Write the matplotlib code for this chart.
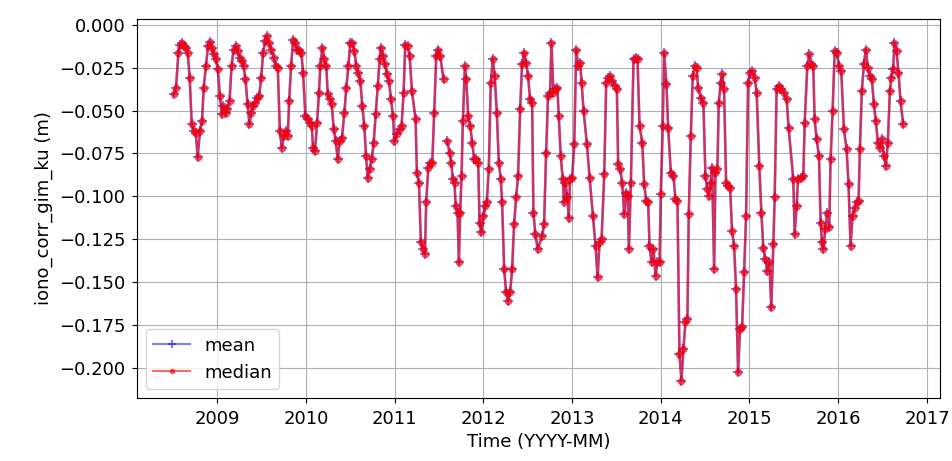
import matplotlib
matplotlib.use("Agg")
import matplotlib.pyplot as plt
import numpy as np
import pandas as pd

# decimal year of each cycle
years = [
    2008.512, 2008.538, 2008.565, 2008.587, 2008.606, 2008.625, 2008.647, 2008.670, 2008.692, 2008.715,
    2008.737, 2008.760, 2008.782, 2008.809, 2008.831, 2008.850, 2008.876, 2008.899, 2008.921, 2008.940,
    2008.963, 2008.985, 2009.008, 2009.030, 2009.053, 2009.071, 2009.094, 2009.116, 2009.139, 2009.162,
    2009.184, 2009.207, 2009.229, 2009.252, 2009.274, 2009.297, 2009.319, 2009.342, 2009.364, 2009.383,
    2009.405, 2009.428, 2009.451, 2009.473, 2009.496, 2009.518, 2009.541, 2009.563, 2009.586, 2009.608,
    2009.638, 2009.661, 2009.683, 2009.706, 2009.728, 2009.751, 2009.773,
    2009.796, 2009.811, 2009.833, 2009.856, 2009.878, 2009.901, 2009.927, 2009.949, 2009.968, 2009.994,
    2010.021, 2010.043, 2010.066, 2010.081, 2010.103, 2010.126, 2010.148, 2010.163, 2010.186, 2010.208,
    2010.231, 2010.246, 2010.268, 2010.291, 2010.314, 2010.336, 2010.359, 2010.381, 2010.407, 2010.434,
    2010.456, 2010.479, 2010.501, 2010.524, 2010.546, 2010.569, 2010.591, 2010.614, 2010.636, 2010.659,
    2010.678, 2010.697, 2010.719, 2010.742, 2010.764, 2010.787, 2010.809, 2010.832, 2010.847, 2010.869,
    2010.892, 2010.914, 2010.937, 2010.959, 2010.982, 2010.997, 2011.027, 2011.057, 2011.079, 2011.102,
    2011.121, 2011.147, 2011.170, 2011.196,
    2011.237, 2011.252, 2011.275, 2011.297, 2011.320, 2011.342, 2011.357, 2011.380, 2011.402, 2011.425,
    2011.447, 2011.470, 2011.492, 2011.515, 2011.552, 2011.573,
    2011.594, 2011.620, 2011.639, 2011.657, 2011.676, 2011.688, 2011.710, 2011.725, 2011.740, 2011.755,
    2011.770, 2011.793, 2011.808, 2011.830, 2011.853, 2011.875, 2011.898, 2011.920, 2011.943, 2011.958,
    2011.980, 2012.003, 2012.025, 2012.040, 2012.063, 2012.085, 2012.108, 2012.130, 2012.153, 2012.176,
    2012.198, 2012.213, 2012.236, 2012.258, 2012.281, 2012.303, 2012.326, 2012.348, 2012.371, 2012.393,
    2012.416, 2012.438, 2012.461, 2012.483, 2012.506, 2012.528, 2012.551, 2012.566, 2012.588, 2012.615,
    2012.664, 2012.686, 2012.709, 2012.731, 2012.754, 2012.769, 2012.791, 2012.814, 2012.836, 2012.851,
    2012.874, 2012.896, 2012.911, 2012.926, 2012.949, 2012.964, 2012.979, 2013.001, 2013.024, 2013.046,
    2013.069, 2013.091, 2013.107, 2013.129, 2013.167, 2013.197, 2013.234, 2013.264, 2013.287, 2013.309,
    2013.332, 2013.362, 2013.384, 2013.407, 2013.429, 2013.452, 2013.482, 2013.504, 2013.519, 2013.542,
    2013.564, 2013.587, 2013.609, 2013.625, 2013.640, 2013.662, 2013.692, 2013.715, 2013.737, 2013.760,
    2013.790, 2013.812, 2013.835, 2013.857, 2013.872, 2013.895, 2013.917, 2013.940, 2013.962, 2013.985,
    2014.000, 2014.022, 2014.037,
    2014.064, 2014.083, 2014.113, 2014.143, 2014.165, 2014.188, 2014.210, 2014.233, 2014.255, 2014.278,
    2014.300, 2014.315, 2014.338, 2014.360, 2014.383, 2014.405, 2014.420, 2014.450, 2014.480, 2014.503,
    2014.525, 2014.540, 2014.563, 2014.578, 2014.601, 2014.616, 2014.638, 2014.653, 2014.676, 2014.691,
    2014.713, 2014.736, 2014.758, 2014.781, 2014.803, 2014.826, 2014.848, 2014.871, 2014.893, 2014.916,
    2014.939, 2014.961, 2014.984, 2015.006, 2015.029, 2015.059, 2015.081, 2015.111, 2015.134, 2015.156,
    2015.179, 2015.201, 2015.224, 2015.246, 2015.269, 2015.284, 2015.306, 2015.329, 2015.359, 2015.389,
    2015.419, 2015.441,
    2015.494, 2015.509, 2015.532, 2015.547, 2015.577, 2015.607, 2015.622, 2015.652, 2015.674, 2015.697,
    2015.719, 2015.734, 2015.757, 2015.783, 2015.802, 2015.817, 2015.832, 2015.854, 2015.877, 2015.899,
    2015.914, 2015.937, 2015.960, 2015.982, 2016.012, 2016.035, 2016.065, 2016.095, 2016.117, 2016.140,
    2016.162, 2016.185, 2016.207, 2016.230, 2016.245, 2016.267, 2016.290, 2016.312, 2016.335, 2016.357,
    2016.380, 2016.403, 2016.425, 2016.448, 2016.470, 2016.493, 2016.515, 2016.538, 2016.560, 2016.583,
    2016.598, 2016.620, 2016.635, 2016.658, 2016.680, 2016.703, 2016.733,
]

# iono correction in metres (nan = missing cycle)
iono_mean = [
    -0.0406, -0.0367, -0.0163, -0.0115, -0.0105, -0.0124, -0.0134, -0.0163, -0.0309, -0.0580,
    -0.0619, -0.0629, -0.0769, -0.0619, -0.0561, -0.0367, -0.0241, -0.0124, -0.0101, -0.0134,
    -0.0173, -0.0202, -0.0260, -0.0415, -0.0522, -0.0474, -0.0512, -0.0493, -0.0444, -0.0241,
    -0.0144, -0.0124, -0.0153, -0.0192, -0.0212, -0.0241, -0.0318, -0.0464, -0.0580, -0.0512,
    -0.0474, -0.0454, -0.0425, -0.0415, -0.0309, -0.0163, -0.0095, -0.0066, -0.0105, -0.0144,
    -0.0192, -0.0241, -0.0250, -0.0619, -0.0716, -0.0648, -0.0619,
    -0.0648, -0.0444, -0.0241, -0.0089, -0.0105, -0.0144, -0.0144, -0.0163, -0.0280, -0.0532,
    -0.0551, -0.0571, -0.0590, -0.0716, -0.0736, -0.0571, -0.0396, -0.0241, -0.0134, -0.0202,
    -0.0241, -0.0406, -0.0435, -0.0464, -0.0609, -0.0677, -0.0784, -0.0677, -0.0658, -0.0512,
    -0.0367, -0.0241, -0.0105, -0.0105, -0.0153, -0.0241, -0.0280, -0.0328, -0.0474, -0.0590,
    -0.0765, -0.0891, -0.0842, -0.0784, -0.0687, -0.0522, -0.0357, -0.0202, -0.0134, -0.0182,
    -0.0231, -0.0289, -0.0328, -0.0435, -0.0532, -0.0677, -0.0639, -0.0609, -0.0590, -0.0396,
    -0.0115, -0.0124, -0.0182, -0.0386,
    -0.0551, -0.0862, -0.0920, -0.1269, -0.1308, -0.1337, -0.1036, -0.0833, -0.0804, -0.0804,
    -0.0512, -0.0182, -0.0144, -0.0182, -0.0318, np.nan,
    -0.0677, -0.0745, -0.0804, -0.0901, -0.0920, -0.1056, -0.1095, -0.1386, -0.1095, -0.0881,
    -0.0561, -0.0241, -0.0318, -0.0532, -0.0590, -0.0687, -0.0784, -0.0784, -0.0804, -0.1153,
    -0.1211, -0.1114, -0.1056, -0.1036, -0.0842, -0.0338, -0.0202, -0.0299, -0.0512, -0.0804,
    -0.0901, -0.1036, -0.1425, -0.1561, -0.1609, -0.1561, -0.1425, -0.1163, -0.1007, -0.0881,
    -0.0493, -0.0231, -0.0163, -0.0221, -0.0299, -0.0435, -0.0454, -0.1095, -0.1221, -0.1308,
    -0.1231, -0.1163, -0.0745, -0.0415, -0.0396, -0.0105, -0.0396, -0.0377, -0.0367, -0.0532,
    -0.0765, -0.0901, -0.1036, -0.0920, -0.1007, -0.1124, -0.0901, -0.0891, -0.0697, -0.0144,
    -0.0241, -0.0221, -0.0338, -0.0503, -0.0697, -0.0891, -0.1114, -0.1289, -0.1473, -0.1269,
    -0.1250, -0.0872, -0.0338, -0.0309, -0.0299, -0.0328, -0.0357, -0.0377, -0.0813, -0.0842,
    -0.0920, -0.1104, -0.0978, -0.0998, -0.1308, -0.0920, -0.0202, -0.0192, -0.0202, -0.0590,
    -0.0687, -0.0930, -0.1027, -0.1036, -0.1289, -0.1386, -0.1308, -0.1463, -0.1386, -0.1386,
    -0.0988, -0.0590, -0.0163,
    -0.0347, -0.0600, -0.0862, -0.0881, -0.1017, -0.1027, -0.1920, -0.2075, -0.1891, -0.1735,
    -0.1716, -0.1104, -0.0648, -0.0299, -0.0241, -0.0250, -0.0367, -0.0425, -0.0454, -0.0881,
    -0.0959, -0.0998, -0.0920, -0.0833, -0.1425, -0.0862, -0.0842, -0.0454, -0.0338, -0.0289,
    -0.0377, -0.0920, -0.0939, -0.0949, -0.1201, -0.1289, -0.1541, -0.2026, -0.1774, -0.1764,
    -0.1444, -0.1114, -0.0338, -0.0280, -0.0270, -0.0309, -0.0396, -0.0823, -0.1095, -0.1299,
    -0.1366, -0.1434, -0.1386, -0.1648, -0.1279, -0.1007, -0.0377, -0.0357, -0.0377, -0.0396,
    -0.0435, -0.0600,
    -0.0901, -0.1221, -0.1056, -0.0901, -0.0891, -0.0881, -0.0571, -0.0241, -0.0173, -0.0231,
    -0.0241, -0.0551, -0.0668, -0.0765, -0.1153, -0.1269, -0.1308, -0.1192, -0.1095, -0.1182,
    -0.0784, -0.0503, -0.0153, -0.0163, -0.0241, -0.0270, -0.0609, -0.0726, -0.0930, -0.1289,
    -0.1114, -0.1066, -0.1036, -0.1027, -0.0726, -0.0386, -0.0231, -0.0144, -0.0250, -0.0299,
    -0.0318, -0.0464, -0.0561, -0.0687, -0.0716, -0.0668, -0.0765, -0.0823, -0.0687, -0.0386,
    -0.0309, -0.0260, -0.0105, -0.0153, -0.0280, -0.0444, -0.0580,
]
# median sits right on top of the mean at this scale
iono_median = list(iono_mean)

dates = pd.to_datetime([f"{int(y)}-01-01" for y in years]) + \
    pd.to_timedelta([(y % 1) * 365.25 for y in years], unit="D")

fig = plt.figure(figsize=(9.53, 4.61), dpi=100)
ax = fig.add_axes([0.144, 0.137, 0.842, 0.822])

ax.plot(dates, iono_mean, color="blue", marker="+", ms=7, mew=1.5,
        lw=1.8, alpha=0.5, label="mean")
ax.plot(dates, iono_median, color="red", marker=".", ms=9,
        lw=1.8, alpha=0.6, label="median")

ax.set_xlabel("Time (YYYY-MM)", fontsize=13)
ax.set_ylabel("iono_corr_gim_ku (m)", fontsize=13)
ax.tick_params(labelsize=13, pad=5)
ax.grid(True)
leg = ax.legend(loc="lower left", fontsize=13)
for h in leg.legend_handles:
    h.set_markersize(6)
    h.set_linewidth(1.5)

fig.savefig("out.png", dpi=100)
